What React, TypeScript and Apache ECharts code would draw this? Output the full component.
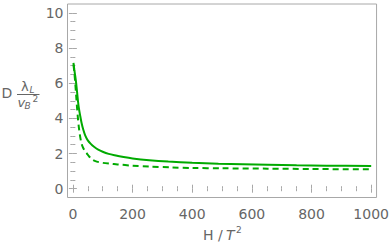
import React, { useEffect, useRef } from "react";
import * as echarts from "echarts";

const solidX = [2, 5, 8, 11, 14, 17, 20, 24, 29, 35, 42, 50, 60, 72, 85, 100, 120, 140, 170, 200, 256, 320, 400, 488, 570, 653, 750, 850, 1000];
const solidY = [7.15, 6.75, 6.4, 6.0, 5.5, 5.0, 4.6, 4.2, 3.75, 3.35, 3.0, 2.75, 2.55, 2.37, 2.22, 2.1, 1.98, 1.9, 1.8, 1.72, 1.62, 1.54, 1.47, 1.42, 1.39, 1.36, 1.33, 1.31, 1.29];
const dashX = [2, 5, 8, 11, 14, 17, 20, 24, 28, 33, 40, 47, 56, 67, 80, 100, 125, 150, 200, 256, 330, 400, 500, 653, 800, 1000];
const dashY = [7.05, 6.6, 6.0, 5.3, 4.6, 4.0, 3.5, 3.0, 2.65, 2.38, 2.15, 2.0, 1.8, 1.63, 1.54, 1.47, 1.42, 1.38, 1.31, 1.26, 1.21, 1.18, 1.16, 1.14, 1.12, 1.1];
const xMajor = [0, 200, 400, 600, 800, 1000];
const xMinor = [50, 100, 150, 250, 300, 350, 450, 500, 550, 650, 700, 750, 850, 900, 950];
const yMajor = [0, 2, 4, 6, 8, 10];
const yMinor = [0.5, 1, 1.5, 2.5, 3, 3.5, 4.5, 5, 5.5, 6.5, 7, 7.5, 8.5, 9, 9.5];

const FRAME = "#a8a8a8";
const TEXT = "#666666";
const FONT = "DejaVu Sans";
const GREEN = "#00aa00";

export default function App() {
  const ref = useRef<HTMLDivElement>(null);
  useEffect(() => {
    if (!ref.current) return;
    const chart = echarts.init(ref.current, null, { renderer: "svg" });
    const fmt = (v: number) => String(v);
    const mkX = (pos: string, vals: number[], len: number, label: boolean) => ({
      type: "value",
      position: pos,
      min: -18,
      max: 1018,
      splitLine: { show: false },
      axisLine: { show: false },
      axisTick: { show: true, inside: true, length: len, customValues: vals, lineStyle: { color: FRAME } },
      axisLabel: label
        ? { show: true, customValues: vals, formatter: fmt, color: TEXT, fontFamily: FONT, fontSize: 14, margin: 9 }
        : { show: false },
    });
    const mkY = (pos: string, vals: number[], len: number, label: boolean) => ({
      type: "value",
      position: pos,
      min: -0.5,
      max: 10.5,
      splitLine: { show: false },
      axisLine: { show: false },
      axisTick: { show: true, inside: true, length: len, customValues: vals, lineStyle: { color: FRAME } },
      axisLabel: label
        ? { show: true, customValues: vals, formatter: fmt, color: TEXT, fontFamily: FONT, fontSize: 14, margin: 4 }
        : { show: false },
    });
    const t = (text: string, x: number, y: number, size: number, italic = false) => ({
      type: "text",
      x,
      y,
      style: {
        text,
        fill: TEXT,
        font: `${italic ? "italic " : ""}${size}px '${FONT}'`,
        verticalAlign: "middle",
        align: "left",
      },
    });
    chart.setOption({
      animation: false,
      grid: {
        left: 67.5,
        right: 11.5,
        top: 4,
        bottom: 46.5,
        show: true,
        borderColor: FRAME,
        borderWidth: 1,
        backgroundColor: "transparent",
      },
      xAxis: [
        mkX("bottom", xMajor, 4, true),
        mkX("bottom", xMinor, 2.5, false),
        mkX("top", xMajor, 4, false),
        mkX("top", xMinor, 2.5, false),
      ],
      yAxis: [
        mkY("left", yMajor, 4, true),
        mkY("left", yMinor, 2.5, false),
        mkY("right", yMajor, 4, false),
        mkY("right", yMinor, 2.5, false),
      ],
      series: [
        {
          type: "line",
          data: solidX.map((x, i) => [x, solidY[i]]),
          showSymbol: false,
          smooth: 0.3,
          lineStyle: { color: GREEN, width: 2 },
        },
        {
          type: "line",
          data: dashX.map((x, i) => [x, dashY[i]]),
          showSymbol: false,
          smooth: 0.3,
          lineStyle: { color: GREEN, width: 2, type: [6, 4] },
        },
      ],
      graphic: [
        t("D", 1.5, 92.8, 14),
        { type: "line", shape: { x1: 17, y1: 94.5, x2: 39.5, y2: 94.5 }, style: { stroke: TEXT, lineWidth: 1 } },
        t("λ", 21, 86.5, 13),
        t("L", 29.5, 90, 9, true),
        t("v", 17.5, 102, 13, true),
        t("B", 24.5, 105.5, 9, true),
        t("2", 32.5, 98.5, 9),
        t("H / ", 203, 235, 14),
        t("T", 226, 235, 14, true),
        t("2", 236, 229.8, 9),
      ],
    });
    return () => chart.dispose();
  }, []);
  return <div ref={ref} style={{ width: 392, height: 244, position: "absolute", left: 0, top: 0 }} />;
}
